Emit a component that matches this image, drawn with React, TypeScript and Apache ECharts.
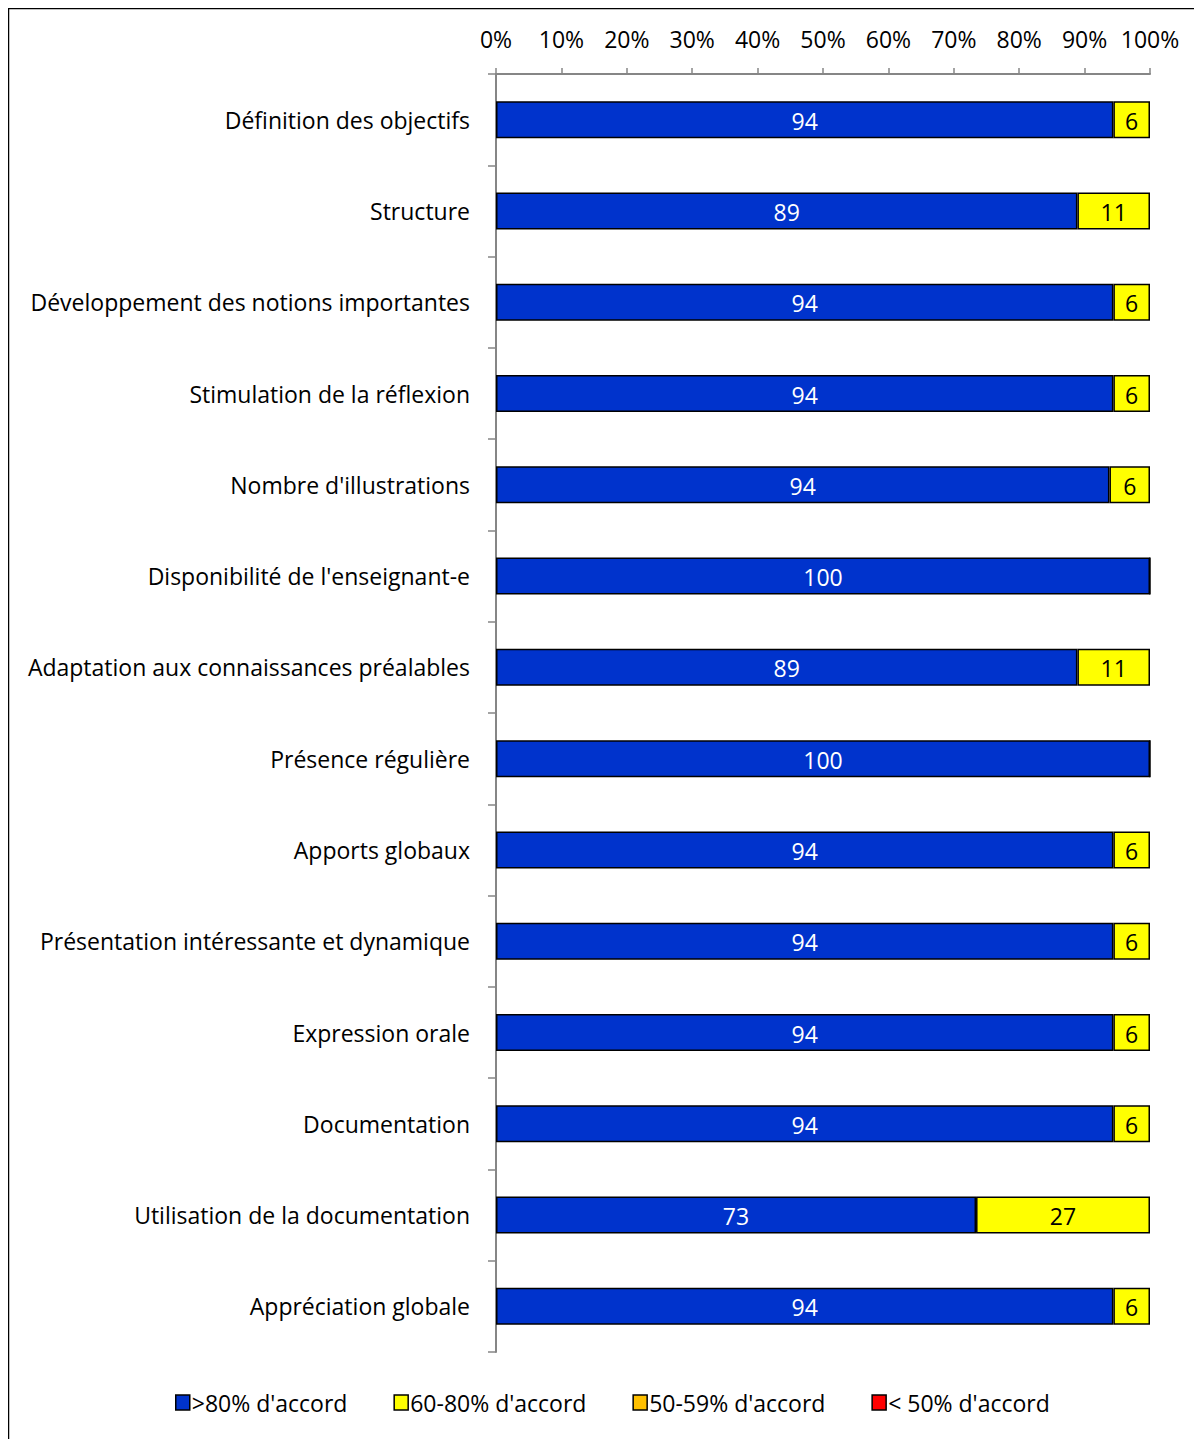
import React, { useEffect, useRef } from "react";
import * as echarts from "echarts";

const categories = [
  "Définition des objectifs",
  "Structure",
  "Développement des notions importantes",
  "Stimulation de la réflexion",
  "Nombre d'illustrations",
  "Disponibilité de l'enseignant-e",
  "Adaptation aux connaissances préalables",
  "Présence régulière",
  "Apports globaux",
  "Présentation intéressante et dynamique",
  "Expression orale",
  "Documentation",
  "Utilisation de la documentation",
  "Appréciation globale",
];

const over80 = [94.4, 88.9, 94.4, 94.4, 93.8, 100, 88.9, 100, 94.4, 94.4, 94.4, 94.4, 73.4, 94.4];
const from60to80 = [5.6, 11.1, 5.6, 5.6, 6.2, 0, 11.1, 0, 5.6, 5.6, 5.6, 5.6, 26.6, 5.6];
const from50to59: number[] = [];
const under50: number[] = [];

const seriesNames = [">80% d'accord", "60-80% d'accord", "50-59% d'accord", "< 50% d'accord"];
const seriesColors = ["#0033CC", "#FFFF00", "#FFC000", "#FF0000"];
const labelColors = ["#FFFFFF", "#000000", "#000000", "#FFFFFF"];

const FONT = "Open Sans";

export default function App() {
  const ref = useRef<HTMLDivElement>(null);
  useEffect(() => {
    if (!ref.current) return;
    const chart = echarts.init(ref.current, null, { renderer: "svg" });
    const datasets = [over80, from60to80, from50to59, under50];
    chart.setOption({
      animation: false,
      backgroundColor: "#FFFFFF",
      textStyle: { fontFamily: FONT },
      graphic: [
        {
          type: "rect",
          shape: { x: 0.5, y: 0.5, width: 1400, height: 1600 },
          style: { fill: "none", stroke: "#000000", lineWidth: 1.5 },
          silent: true,
        },
      ],
      grid: { left: 488, right: 52, top: 66, bottom: 87 },
      legend: {
        bottom: 20,
        left: 162,
        itemWidth: 14,
        itemHeight: 15,
        itemGap: 46,
        icon: "rect",
        data: seriesNames,
        textStyle: { fontFamily: FONT, fontSize: 23, color: "#000000", padding: [0, 0, 0, -3] },
        itemStyle: { borderColor: "#000000", borderWidth: 1.5 },
      },
      xAxis: {
        type: "value",
        position: "top",
        min: 0,
        max: 100,
        interval: 10,
        axisLine: { show: true, lineStyle: { color: "#868686", width: 2 } },
        axisTick: { show: true, length: 6, inside: false, lineStyle: { color: "#868686", width: 1.5 } },
        splitLine: { show: false },
        axisLabel: {
          formatter: "{value}%",
          fontFamily: FONT,
          fontSize: 23,
          color: "#000000",
          margin: 24,
        },
      },
      yAxis: {
        type: "category",
        inverse: true,
        data: categories,
        axisLine: { show: true, lineStyle: { color: "#868686", width: 2 } },
        axisTick: { show: true, length: 8, lineStyle: { color: "#868686", width: 1.5 } },
        axisLabel: { fontFamily: FONT, fontSize: 23, color: "#000000", margin: 26 },
      },
      series: seriesNames.map((name, i) => ({
        name,
        type: "bar",
        stack: "total",
        barWidth: 37,
        data: datasets[i],
        itemStyle: { color: seriesColors[i], borderColor: "#000000", borderWidth: 1.5 },
        label: {
          show: true,
          position: "inside",
          fontFamily: FONT,
          fontSize: 23,
          color: labelColors[i],
          offset: [0, 1],
          formatter: (p: any) => (p.value > 0 ? String(Math.round(p.value)) : ""),
        },
      })),
    });
    return () => chart.dispose();
  }, []);
  return <div ref={ref} style={{ width: 1194, height: 1431 }} />;
}
